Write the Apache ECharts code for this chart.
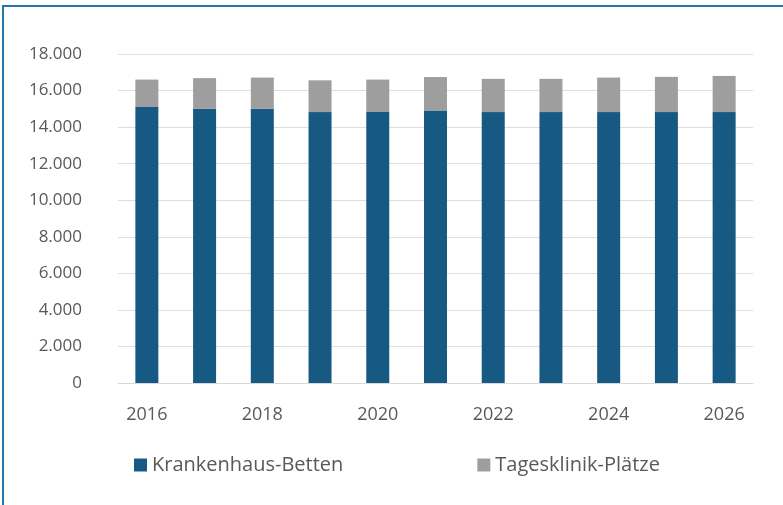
<!DOCTYPE html>
<html>
<head>
<meta charset="utf-8">
<script src="https://cdn.jsdelivr.net/npm/echarts@6/dist/echarts.min.js"></script>
<style>
  html, body { margin: 0; padding: 0; background: #fff; }
  #wrap { position: relative; width: 783px; height: 505px; overflow: hidden; }
  #frame {
    position: absolute; left: 2px; top: 5px; width: 900px; height: 600px;
    border-top: 2px solid #2176ab; border-left: 2px solid #2176ab;
  }
  #chart { position: absolute; left: 0; top: 0; width: 783px; height: 505px; }
</style>
</head>
<body>
<div id="wrap">
  <div id="frame"></div>
  <div id="chart"></div>
</div>
<script>
// Jahre
const years = ['2016', '2017', '2018', '2019', '2020', '2021', '2022', '2023', '2024', '2025', '2026']
// Krankenhaus-Betten (blau)
const betten = [15100, 15000, 15000, 14820, 14850, 14910, 14820, 14820, 14820, 14820, 14820]
// Tagesklinik-Plätze (grau), oben drauf gestapelt
const tagesklinik = [1500, 1680, 1710, 1740, 1750, 1830, 1820, 1820, 1890, 1930, 1980]

const font = '"Open Sans", sans-serif'
const textColor = '#595959'

// 12.000 statt 12,000
const fmt = v => v === 0 ? '0' : String(v).replace(/\B(?=(\d{3})+(?!\d))/g, '.')

const chart = echarts.init(document.getElementById('chart'))
chart.setOption({
  animation: false,
  grid: { left: 118, right: 30, top: 54, bottom: 122 },
  legend: {
    left: 134,
    top: 455,
    padding: 0,
    itemWidth: 13,
    itemHeight: 13,
    itemGap: 134,
    icon: 'rect',
    textStyle: { fontFamily: font, fontSize: 20, color: textColor },
    data: ['Krankenhaus-Betten', 'Tagesklinik-Plätze']
  },
  xAxis: {
    type: 'category',
    data: years,
    axisLine: { lineStyle: { color: '#d9d9d9', width: 1 } },
    axisTick: { alignWithLabel: true, length: 5, lineStyle: { color: '#d9d9d9' } },
    axisLabel: {
      interval: 1,
      margin: 23,
      fontFamily: font,
      fontSize: 18,
      color: textColor
    }
  },
  yAxis: {
    type: 'value',
    min: 0,
    max: 18000,
    interval: 2000,
    axisLine: { show: false },
    axisTick: { show: false },
    splitLine: { lineStyle: { color: '#dedede', width: 1 } },
    axisLabel: {
      margin: 36,
      fontFamily: font,
      fontSize: 17,
      color: textColor,
      formatter: fmt
    }
  },
  series: [
    {
      name: 'Krankenhaus-Betten',
      type: 'bar',
      stack: 'total',
      barWidth: 23,
      itemStyle: { color: '#165a83' },
      data: betten
    },
    {
      name: 'Tagesklinik-Plätze',
      type: 'bar',
      stack: 'total',
      barWidth: 23,
      itemStyle: { color: '#9e9e9e' },
      data: tagesklinik
    }
  ]
})
</script>
</body>
</html>
